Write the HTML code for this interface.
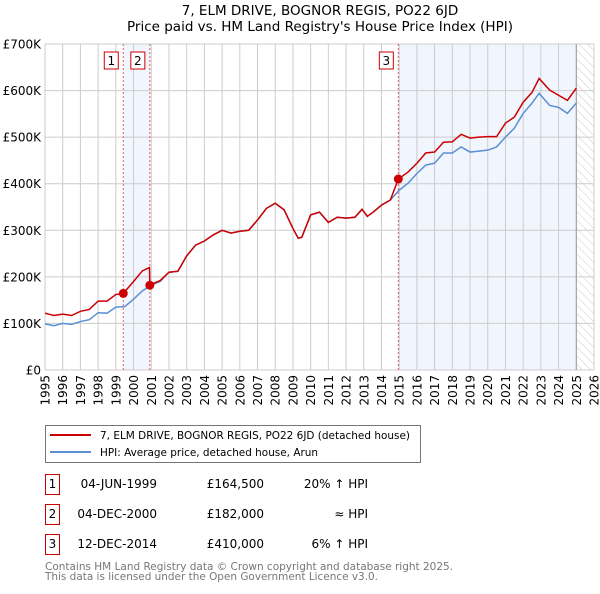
<!DOCTYPE html>
<html><head><meta charset="utf-8"><style>
body{margin:0;background:#fff;font-family:"DejaVu Sans","Liberation Sans",sans-serif;}
svg text{font-family:"DejaVu Sans","Liberation Sans",sans-serif;}
</style></head><body>
<svg id="c" width="600" height="590" xmlns="http://www.w3.org/2000/svg">
<defs><pattern id="hatch" width="6" height="6" patternUnits="userSpaceOnUse" patternTransform="rotate(-45)"><line x1="0" y1="0" x2="0" y2="6" stroke="#ccc" stroke-width="1"/></pattern></defs>
<text x="320" y="15" text-anchor="middle" font-size="13.5" fill="#000">7, ELM DRIVE, BOGNOR REGIS, PO22 6JD</text>
<text x="320" y="31" text-anchor="middle" font-size="13.5" fill="#000">Price paid vs. HM Land Registry's House Price Index (HPI)</text>
<g id="plot"></g>
<g>
<rect x="45.5" y="425.5" width="375" height="37" fill="#fff" stroke="#777"/>
<line x1="50" y1="435" x2="91" y2="435" stroke="#cc0000" stroke-width="2"/>
<text x="100" y="439" font-size="11" textLength="310" lengthAdjust="spacingAndGlyphs">7, ELM DRIVE, BOGNOR REGIS, PO22 6JD (detached house)</text>
<line x1="50" y1="452" x2="91" y2="452" stroke="#5b8fd4" stroke-width="2"/>
<text x="100" y="456" font-size="11" textLength="218" lengthAdjust="spacingAndGlyphs">HPI: Average price, detached house, Arun</text>
</g>
<g id="table" font-size="12"></g>
<text x="45" y="570" font-size="11" fill="#777" textLength="408" lengthAdjust="spacingAndGlyphs">Contains HM Land Registry data © Crown copyright and database right 2025.</text>
<text x="45" y="580" font-size="11" fill="#777" textLength="333" lengthAdjust="spacingAndGlyphs">This data is licensed under the Open Government Licence v3.0.</text>
</svg>
<script>
const yearTicks=[1995,1996,1997,1998,1999,2000,2001,2002,2003,2004,2005,2006,2007,2008,2009,2010,2011,2012,2013,2014,2015,2016,2017,2018,2019,2020,2021,2022,2023,2024,2025,2026];
const valueTicks=[0,100000,200000,300000,400000,500000,600000,700000];
const valueLabels=["£0","£100K","£200K","£300K","£400K","£500K","£600K","£700K"];
const hpiDates=[1995,1995.5,1996,1996.5,1997,1997.5,1998,1998.5,1999,1999.5,2000,2000.5,2001,2001.5,2002,2002.5,2003,2003.5,2004,2004.5,2005,2005.5,2006,2006.5,2007,2007.5,2008,2008.5,2009,2009.3,2009.5,2010,2010.5,2011,2011.5,2012,2012.5,2012.9,2013.2,2013.5,2014,2014.5,2015,2015.5,2016,2016.5,2017,2017.5,2018,2018.5,2019,2019.5,2020,2020.5,2021,2021.5,2022,2022.5,2022.9,2023.5,2024,2024.5,2025];
const hpiValues=[99,95,100,98,104,108,123,122,135,136,152,170,182,190,210,212,245,268,277,290,300,294,298,300,322,347,358,344,304,283,285,333,339,317,328,326,328,345,330,338,354,365,386,401,422,440,444,466,466,479,468,470,472,479,500,519,551,573,594,568,564,551,573];
const priceDates=[1995,1995.5,1996,1996.5,1997,1997.5,1998,1998.5,1999,1999.42,2000,2000.5,2000.9,2000.92,2001,2001.5,2002,2002.5,2003,2003.5,2004,2004.5,2005,2005.5,2006,2006.5,2007,2007.5,2008,2008.5,2009,2009.3,2009.5,2010,2010.5,2011,2011.5,2012,2012.5,2012.9,2013.2,2013.5,2014,2014.5,2014.95,2015.5,2016,2016.5,2017,2017.5,2018,2018.5,2019,2019.5,2020,2020.5,2021,2021.5,2022,2022.5,2022.9,2023.5,2024,2024.5,2025];
const priceValues=[122,117,120,117,126,130,148,148,162,164.5,190,213,220,182,184,192,210,212,245,268,277,290,300,294,298,300,322,347,358,344,304,283,285,333,339,317,328,326,328,345,330,338,354,365,410,425,444,466,468,489,490,506,498,500,501,501,530,543,575,596,626,601,590,579,605];
const saleLabels=["1","2","3"];
const saleDates=[1999.42,2000.92,2014.95];
const saleValues=[164500,182000,410000];
const saleDateText=["04-JUN-1999","04-DEC-2000","12-DEC-2014"];
const salePriceText=["£164,500","£182,000","£410,000"];
const saleHpiText=["20% ↑ HPI","≈ HPI","6% ↑ HPI"];

const NS="http://www.w3.org/2000/svg";
const X0=45,X1=594,Y0=370,Y1=44;
const xs=t=>X0+(t-1995)/(2026-1995)*(X1-X0);
const ys=v=>Y0-v/700000*(Y0-Y1);
function mk(tag,attrs,parent){const e=document.createElementNS(NS,tag);for(const k in attrs)e.setAttribute(k,attrs[k]);parent.appendChild(e);return e;}
const plot=document.getElementById('plot');
let r=mk('rect',{x:xs(saleDates[0]),y:Y1,width:xs(saleDates[1])-xs(saleDates[0]),height:Y0-Y1,fill:'#eef3fc',opacity:0.8},plot);


r=mk('rect',{x:xs(saleDates[2]),y:Y1,width:xs(2025)-xs(saleDates[2]),height:Y0-Y1,fill:'#eef3fc',opacity:0.8},plot);


r=mk('rect',{x:xs(2025),y:Y1,width:X1-xs(2025),height:Y0-Y1,fill:'url(#hatch)'},plot);


yearTicks.forEach(t=>{const l=mk('line',{x1:xs(t),x2:xs(t),y1:Y1,y2:Y0,stroke:'#ccc','stroke-width':1},plot);


const tx=mk('text',{x:0,y:0,'font-size':12,'text-anchor':'end',transform:`translate(${xs(t)+4.5},${Y0+5}) rotate(-90)`},plot);tx.textContent=t;

});
valueTicks.forEach((v,i)=>{const l=mk('line',{x1:X0,x2:X1,y1:ys(v),y2:ys(v),stroke:'#ccc','stroke-width':1},plot);


const tx=mk('text',{x:41,y:ys(v)+4.5,'font-size':12,'text-anchor':'end'},plot);tx.textContent=valueLabels[i];

});
const b=mk('line',{x1:xs(2025),x2:xs(2025),y1:Y1,y2:Y0,stroke:'#999','stroke-width':1},plot);


saleDates.forEach((d,i)=>{const l=mk('line',{x1:xs(d),x2:xs(d),y1:Y1,y2:Y0,stroke:'#e06060','stroke-width':1,'stroke-dasharray':'2,2'},plot);


const bx=mk('rect',{x:xs(d)-19,y:52,width:14,height:17,fill:'#fff',stroke:'#cc0000'},plot);


const tx=mk('text',{x:xs(d)-12,y:65,'font-size':12,'text-anchor':'middle'},plot);tx.textContent=saleLabels[i];

});
const hp=mk('polyline',{points:hpiDates.map((d,i)=>xs(d)+','+ys(hpiValues[i]*1000)).join(' '),fill:'none',stroke:'#5b8fd4','stroke-width':1.5},plot);


const pp=mk('polyline',{points:priceDates.map((d,i)=>xs(d)+','+ys(priceValues[i]*1000)).join(' '),fill:'none',stroke:'#cc0000','stroke-width':1.5},plot);


saleDates.forEach((d,i)=>{const c=mk('circle',{cx:xs(d),cy:ys(saleValues[i]),r:4.5,fill:'#cc0000'},plot);

});
const tb=document.getElementById('table');
saleLabels.forEach((s,i)=>{const y=483+i*30;
const bx=mk('rect',{x:45.5,y:y-8.5,width:14,height:20,fill:'#fff',stroke:'#cc0000'},tb);


let t=mk('text',{x:52.5,y:y+5,'text-anchor':'middle'},tb);t.textContent=s;


t=mk('text',{x:157,y:y+5,'text-anchor':'end'},tb);t.textContent=saleDateText[i];


t=mk('text',{x:264,y:y+5,'text-anchor':'end'},tb);t.textContent=salePriceText[i];


t=mk('text',{x:368,y:y+5,'text-anchor':'end'},tb);t.textContent=saleHpiText[i];

});
</script>
</body></html>
